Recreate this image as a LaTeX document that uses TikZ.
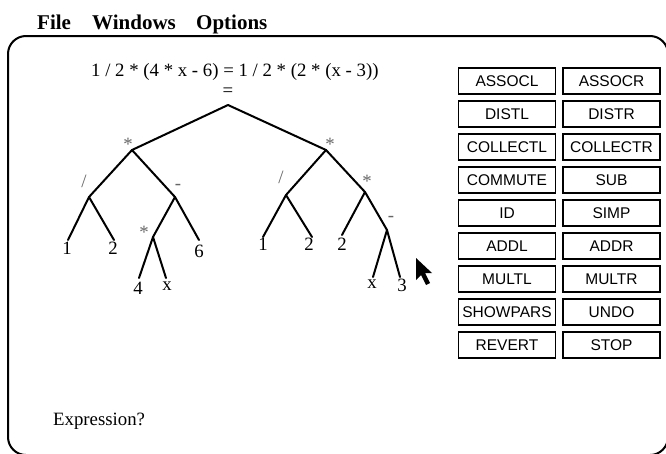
\documentclass[tikz,border=0pt]{standalone}
\usepackage{fontspec}
\setmainfont{Liberation Serif}
\newfontfamily\btnfont{Liberation Sans}
\begin{document}
\begin{tikzpicture}[x=1pt,y=-1pt,
  edge/.style={line width=2pt,line cap=round,line join=round},
  btn/.style={draw,line width=1.6pt,minimum width=97pt,minimum height=26pt,inner sep=0pt,
    font=\btnfont\fontsize{15.5}{16}\selectfont},
  menu/.style={anchor=base west,inner sep=0pt,font=\bfseries\fontsize{21}{22}\selectfont},
  txt/.style={inner sep=0pt,font=\fontsize{18.8}{20}\selectfont},
  op/.style={inner sep=0pt,text=black!60,font=\fontsize{18.8}{20}\selectfont},
  leaf/.style={inner sep=0pt,anchor=north,font=\fontsize{18.8}{20}\selectfont}]
\useasboundingbox (0,0) rectangle (666,453);
\clip (0,0) rectangle (666,453);
% menu bar
\node[menu] (mfile) at (37,29) {File};
\node[menu] (mwin) at (92,29) {Windows};
\node[menu] (mopt) at (196,29) {Options};
% window frame
\draw[line width=2pt,rounded corners=18pt] (8,36) rectangle (668,455);
% equation
\node[txt,anchor=base west] (eq) at (91,76) {1 / 2 * (4 * x - 6) = 1 / 2 * (2 * (x - 3))};
\node[txt] (eqsign) at (228,92) {=};
% tree vertices
\coordinate (r) at (228,105);
\coordinate (lm) at (132,150);
\coordinate (rm) at (326,150);
\coordinate (ld) at (89,197);
\coordinate (ls) at (175,197);
\coordinate (l1) at (68,240);
\coordinate (l2) at (114,240);
\coordinate (lim) at (153,237);
\coordinate (l6) at (199,240);
\coordinate (l4) at (139,278);
\coordinate (lx) at (166,278);
\coordinate (rd) at (286,195);
\coordinate (rim) at (365,192);
\coordinate (r1) at (263,237);
\coordinate (r2) at (312,237);
\coordinate (r2b) at (342,235);
\coordinate (rs) at (387,230);
\coordinate (rx) at (373,277);
\coordinate (r3) at (400,277);
% edges
\draw[edge] (lm) -- (r) -- (rm);
\draw[edge] (ld) -- (lm) -- (ls);
\draw[edge] (l1) -- (ld) -- (l2);
\draw[edge] (lim) -- (ls) -- (l6);
\draw[edge] (l4) -- (lim) -- (lx);
\draw[edge] (rd) -- (rm) -- (rim);
\draw[edge] (r1) -- (rd) -- (r2);
\draw[edge] (r2b) -- (rim) -- (rs);
\draw[edge] (rx) -- (rs) -- (r3);
% operator labels
\node[op] (olm) at (128,144) {*};
\node[op] (orm) at (330,144) {*};
\node[op] (old) at (84,181) {/};
\node[op] (ols) at (178,187) {-};
\node[op] (olim) at (144,232) {*};
\node[op] (ord) at (281,177) {/};
\node[op] (orim) at (367,181) {*};
\node[op] (ors) at (391,219) {-};
% leaf labels
\node[leaf] (t1) at (67,242) {1};
\node[leaf] (t2) at (113,242) {2};
\node[leaf] (t6) at (199,245) {6};
\node[leaf] (t4) at (138,282) {4};
\node[leaf] (tx) at (167,282) {x};
\node[leaf] (u1) at (263,238) {1};
\node[leaf] (u2) at (309,238) {2};
\node[leaf] (u2b) at (342,238) {2};
\node[leaf] (ux) at (372,280) {x};
\node[leaf] (u3) at (402,279) {3};
% cursor
\fill (416,258) -- (416,280) -- (421,275) -- (426,285) -- (430,283) -- (425,273) -- (432,273) -- cycle;
% buttons
\foreach \i/\a/\b in {0/ASSOCL/ASSOCR,1/DISTL/DISTR,2/COLLECTL/COLLECTR,3/COMMUTE/SUB,4/ID/SIMP,5/ADDL/ADDR,6/MULTL/MULTR,7/SHOWPARS/UNDO,8/REVERT/STOP}{
  \node[btn] (bl\i) at (507,81+33*\i) {\a};
  \node[btn] (br\i) at (611.5,81+33*\i) {\b};
}
% prompt
\node[txt,anchor=base west] (prompt) at (53,425) {Expression?};
\end{tikzpicture}
\end{document}
